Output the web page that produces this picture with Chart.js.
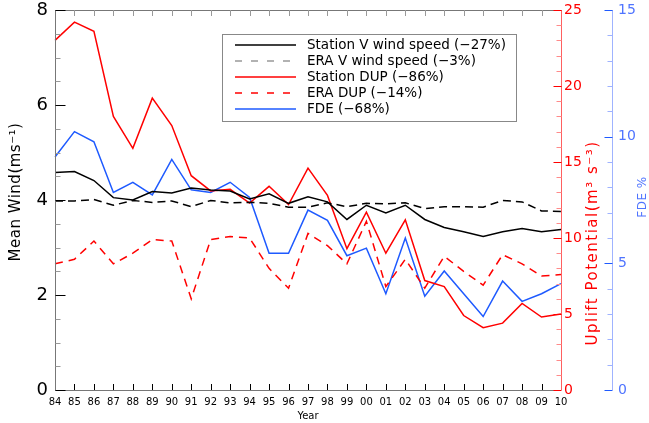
<!DOCTYPE html>
<html lang="en">
  <head>
    <meta charset="UTF-8" />
    <title>Mean wind, uplift potential and FDE</title>
    <script src="https://cdn.jsdelivr.net/npm/chart.js"></script>
    <style>
      html, body { margin: 0; padding: 0; background: #fff; }
      #wrap { width: 649px; height: 423px; }
    </style>
  </head>
  <body>
    <div id="wrap"><canvas id="chart" width="649" height="423"></canvas></div>

    <script>
      // data
      const years = ['84','85','86','87','88','89','90','91','92','93','94','95','96','97',
                     '98','99','00','01','02','03','04','05','06','07','08','09','10'];
      const stationWind = [4.58, 4.60, 4.41, 4.05, 4.00, 4.18, 4.15, 4.25, 4.21, 4.19, 4.02, 4.13, 3.93, 4.07,
                           3.96, 3.59, 3.89, 3.73, 3.89, 3.59, 3.42, 3.33, 3.23, 3.33, 3.40, 3.33, 3.38];
      const eraWind = [3.98, 3.98, 4.01, 3.89, 3.99, 3.95, 3.98, 3.86, 3.99, 3.94, 3.95, 3.93, 3.85, 3.85,
                       3.94, 3.86, 3.93, 3.92, 3.94, 3.82, 3.86, 3.86, 3.85, 3.99, 3.96, 3.77, 3.76];
      const stationDup = [23.0, 24.2, 23.6, 18.0, 15.9, 19.2, 17.4, 14.1, 13.1, 13.2, 12.3, 13.4, 12.2, 14.6,
                          12.8, 9.3, 11.7, 9.0, 11.2, 7.2, 6.8, 4.9, 4.1, 4.4, 5.7, 4.8, 5.0];
      const eraDup = [8.3, 8.6, 9.8, 8.3, 9.0, 9.9, 9.8, 6.0, 9.9, 10.1, 10.0, 8.0, 6.7, 10.3,
                      9.5, 8.3, 11.1, 6.8, 8.6, 6.7, 8.8, 7.8, 6.9, 8.9, 8.3, 7.5, 7.6];
      const fde = [9.2, 10.2, 9.8, 7.8, 8.2, 7.7, 9.1, 7.9, 7.8, 8.2, 7.6, 5.4, 5.4, 7.1,
                   6.7, 5.3, 5.6, 3.8, 6.0, 3.7, 4.7, 3.8, 2.9, 4.3, 3.5, 3.8, 4.2];

      const windTicks = [0, 2, 4, 6, 8];
      const dupTicks = [0, 5, 10, 15, 20, 25];
      const fdeTicks = [0, 5, 10, 15];

      const RED = '#ff0000';
      const BLUE = '#1e5aff';
      const BLUE_LIGHT = '#4f74ff';
      const FONT = "'DejaVu Sans', sans-serif";

      const setTicks = arr => scale => { scale.ticks = arr.map(v => ({ value: v })); };
      // fixed box sizes, and no extra room for the end labels
      const fixBox = (w, h) => s => {
        if (w) s.width = w;
        if (h) s.height = h;
        s.paddingTop = 0;
        s.paddingBottom = 0;
      };

      // axes drawn by hand so the tick marks point inward, like the original
      const axesPlugin = {
        id: 'axes',
        afterDatasetsDraw(chart) {
          const { ctx, chartArea: a, scales } = chart;
          const line = (x1, y1, x2, y2, c) => {
            ctx.strokeStyle = c;
            ctx.beginPath();
            ctx.moveTo(x1, y1);
            ctx.lineTo(x2, y2);
            ctx.stroke();
          };
          ctx.save();
          ctx.lineWidth = 1;

          // x axis, bottom and top
          line(a.left, a.bottom + 0.5, a.right, a.bottom + 0.5, '#777');
          line(a.left, a.top + 0.5, a.right, a.top + 0.5, '#777');
          years.forEach((y, i) => {
            const x = Math.round(scales.x.getPixelForValue(i)) + 0.5;
            line(x, a.bottom, x, a.bottom - 6, '#000');
            line(x, a.top, x, a.top + 6, '#999');
          });

          // left wind axis
          const xl = a.left + 0.5;
          line(xl, a.top, xl, a.bottom, '#777');
          for (let v = 0; v <= 8; v += 0.5) {
            const y = Math.round(scales.y.getPixelForValue(v)) + 0.5;
            if (windTicks.includes(v)) line(xl, y, xl + 10, y, '#000');
            else line(xl, y, xl + 5, y, '#999');
          }

          // red DUP axis
          const xr = a.right + 0.5;
          line(xr, a.top, xr, a.bottom, '#ff6060');
          for (let v = 0; v <= 25; v += 1) {
            const y = Math.round(scales.yDup.getPixelForValue(v)) + 0.5;
            if (dupTicks.includes(v)) line(xr, y, xr - 8, y, RED);
            else line(xr, y, xr - 5, y, '#ff8a8a');
          }

          // blue FDE axis
          const xb = Math.round(scales.yFde.left) + 0.5;
          line(xb, a.top, xb, a.bottom, '#9fb3ff');
          for (let v = 0; v <= 15; v += 1) {
            const y = Math.round(scales.yFde.getPixelForValue(v)) + 0.5;
            if (fdeTicks.includes(v)) line(xb, y, xb - 8, y, BLUE);
            else line(xb, y, xb - 5, y, '#9fb3ff');
          }

          // axis titles
          const vtext = (txt, x, y, size, color, spacing) => {
            ctx.save();
            ctx.translate(x, y);
            ctx.rotate(-Math.PI / 2);
            ctx.font = size + 'px ' + FONT;
            ctx.letterSpacing = (spacing || 0) + 'px';
            ctx.fillStyle = color;
            ctx.textAlign = 'center';
            ctx.textBaseline = 'middle';
            ctx.fillText(txt, 0, 0);
            ctx.restore();
          };
          vtext('Mean Wind(ms\u207B\u00B9)', 16, 192, 15, '#000', 0.5);
          vtext('Uplift Potential(m\u00B3 s\u207B\u00B3)', 593, 243, 15, RED, 1.5);
          vtext('FDE %', 643, 197, 12, BLUE_LIGHT, 0.5);
          ctx.font = '10px ' + FONT;
          ctx.fillStyle = '#000';
          ctx.textAlign = 'center';
          ctx.textBaseline = 'middle';
          ctx.fillText('Year', (a.left + a.right) / 2, 416);

          // legend box
          const lx = 222, ly = 34, lw = 294, lh = 87;
          ctx.strokeStyle = '#888';
          ctx.strokeRect(lx + 0.5, ly + 0.5, lw, lh);
          ctx.font = '13.5px ' + FONT;
          ctx.textAlign = 'left';
          ctx.textBaseline = 'middle';
          chart.data.datasets.forEach((ds, i) => {
            const y = 45 + i * 16;
            ctx.save();
            ctx.strokeStyle = ds.legendColor || ds.borderColor;
            ctx.lineWidth = 1.5;
            ctx.setLineDash(ds.borderDash ? [7, 9] : []);
            ctx.beginPath();
            ctx.moveTo(235, y);
            ctx.lineTo(296, y);
            ctx.stroke();
            ctx.restore();
            ctx.fillStyle = '#000';
            ctx.fillText(ds.label, 307, y);
          });
          ctx.restore();
        }
      };

      new Chart(document.getElementById('chart'), {
        type: 'line',
        data: {
          labels: years,
          datasets: [
            { label: 'Station V wind speed (\u221227%)', data: stationWind, yAxisID: 'y',
              borderColor: '#000', borderWidth: 1.5 },
            { label: 'ERA V wind speed (\u22123%)', data: eraWind, yAxisID: 'y',
              borderColor: '#000', legendColor: '#999', borderWidth: 1.5, borderDash: [8, 5] },
            { label: 'Station DUP (\u221286%)', data: stationDup, yAxisID: 'yDup',
              borderColor: RED, borderWidth: 1.5 },
            { label: 'ERA DUP (\u221214%)', data: eraDup, yAxisID: 'yDup',
              borderColor: RED, borderWidth: 1.5, borderDash: [8, 6] },
            { label: 'FDE (\u221268%)', data: fde, yAxisID: 'yFde',
              borderColor: BLUE, borderWidth: 1.5 }
          ]
        },
        options: {
          responsive: false,
          animation: false,
          events: [],
          elements: { point: { radius: 0 }, line: { tension: 0, fill: false } },
          layout: { padding: { top: 10, left: 0, right: 0, bottom: 0 } },
          plugins: { legend: { display: false }, tooltip: { enabled: false } },
          scales: {
            x: {
              offset: false,
              grid: { display: false, drawTicks: false },
              border: { display: false },
              ticks: { autoSkip: false, maxRotation: 0, padding: 6, color: '#000',
                       font: { family: FONT, size: 10 } },
              afterFit: fixBox(0, 33)
            },
            y: {
              position: 'left', min: 0, max: 8,
              afterBuildTicks: setTicks(windTicks),
              grid: { display: false, drawTicks: false },
              border: { display: false },
              ticks: { padding: 7, color: '#000', font: { family: FONT, size: 18, lineHeight: 1 } },
              afterFit: fixBox(55, 0)
            },
            yDup: {
              position: 'right', min: 0, max: 25,
              afterBuildTicks: setTicks(dupTicks),
              grid: { display: false, drawTicks: false },
              border: { display: false },
              ticks: { padding: 3, color: RED, font: { family: FONT, size: 14, lineHeight: 1 } },
              afterFit: fixBox(51, 0)
            },
            yFde: {
              position: 'right', min: 0, max: 15,
              afterBuildTicks: setTicks(fdeTicks),
              grid: { display: false, drawTicks: false },
              border: { display: false },
              ticks: { padding: 6, color: BLUE_LIGHT, font: { family: FONT, size: 14, lineHeight: 1 } },
              afterFit: fixBox(37, 0)
            }
          }
        },
        plugins: [axesPlugin]
      });
    </script>
  </body>
</html>
